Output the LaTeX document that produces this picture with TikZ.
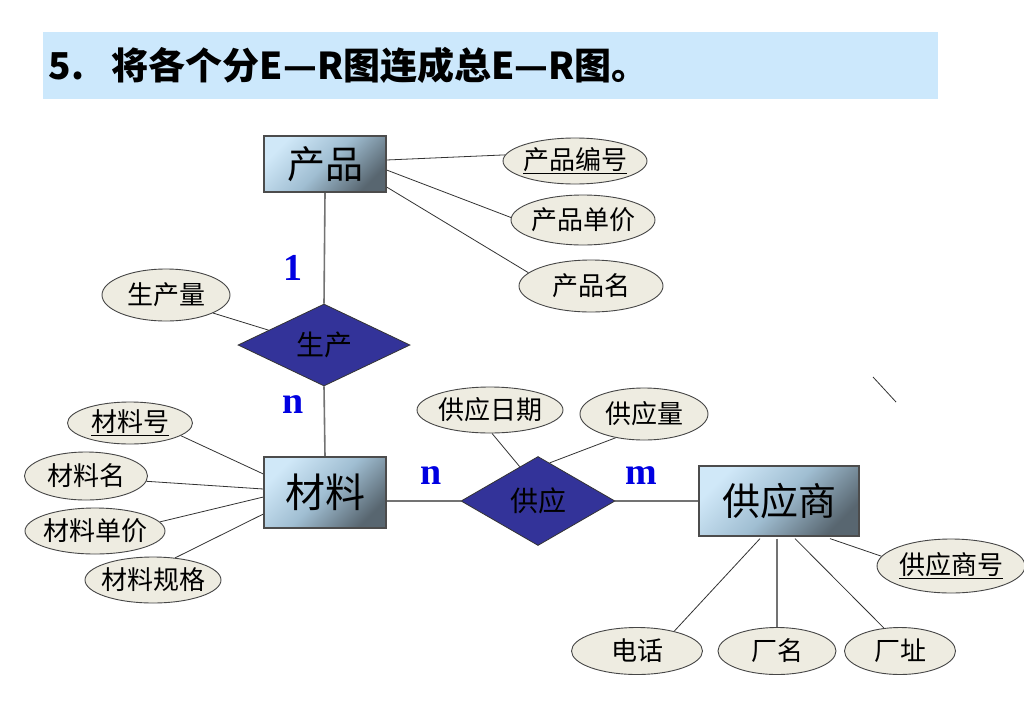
\documentclass[tikz,border=0pt]{standalone}
\usepackage{fontspec}
\newfontfamily\cjk{Noto Sans CJK SC}
\newfontfamily\serifb{Liberation Serif}
\usetikzlibrary{shapes.geometric,backgrounds}
\definecolor{bandblue}{RGB}{204,232,252}
\definecolor{ellfill}{RGB}{238,236,225}
\definecolor{ellline}{RGB}{70,70,70}
\definecolor{relfill}{RGB}{51,51,153}
\definecolor{boxlight}{RGB}{208,232,248}
\definecolor{boxmid}{RGB}{160,190,210}
\definecolor{boxdark}{RGB}{88,102,112}
\definecolor{cardblue}{RGB}{0,0,225}
\definecolor{reltext}{RGB}{0,0,0}
\newcommand{\zw}[1]{\makebox[0pt]{#1}}
\tikzset{
  entbox/.style={rectangle, draw=black!70, line width=1.2pt, inner sep=0pt,
    top color=boxlight, bottom color=boxdark, middle color=boxmid, shading angle=45,
    font=\cjk\fontsize{38}{42}\selectfont},
  attrell/.style={ellipse, draw=ellline, fill=ellfill, line width=0.9pt, inner sep=0pt,
    font=\cjk\fontsize{26}{30}\selectfont},
  relbox/.style={diamond, draw=black!80, fill=relfill, line width=0.8pt, inner sep=0pt,
    text=reltext, font=\cjk\fontsize{28}{30}\selectfont},
  card/.style={font=\serifb\bfseries\fontsize{38}{40}\selectfont, text=cardblue, inner sep=0pt},
  mainlink/.style={draw=black!55, line width=1.6pt},
  attrlink/.style={draw=black!80, line width=0.8pt},
}
\begin{document}
\begin{tikzpicture}[x=1pt,y=-1pt]
\useasboundingbox (0,0) rectangle (1024,723);
% title band
\node[fill=bandblue, minimum width=895pt, minimum height=67pt, text width=884pt, align=left,
      inner sep=0pt, font=\cjk\bfseries\fontsize{37}{40}\selectfont] (title) at (490.5,65.5)
      {5.\hspace{28pt}将各个分E—R图连成总E—R图。};
% entities
\node[entbox, minimum width=122pt, minimum height=56pt] (p) at (325,164) {产品};
\node[entbox, minimum width=122pt, minimum height=71pt, font=\cjk\fontsize{40}{44}\selectfont] (m) at (325,492.5) {材料};
\node[entbox, minimum width=160pt, minimum height=70pt] (s) at (779,501) {供应商};
% relationships
\node[relbox, minimum width=172pt, minimum height=80pt] (r1) at (324,345) {\color{reltext}生产};
\node[relbox, minimum width=154pt, minimum height=89pt] (r2) at (538,501) {\color{reltext}供应};
% attributes
\node[attrell, minimum width=144pt, minimum height=46pt] (a1) at (575,161) {\zw{\underline{产品编号}}};
\node[attrell, minimum width=144pt, minimum height=50pt] (a2) at (583,220) {\zw{产品单价}};
\node[attrell, minimum width=144pt, minimum height=52pt] (a3) at (591,286) {\zw{产品名}};
\node[attrell, minimum width=128pt, minimum height=52pt] (a4) at (166,295) {\zw{生产量}};
\node[attrell, minimum width=125pt, minimum height=42pt] (b1) at (130,423) {\zw{\underline{材料号}}};
\node[attrell, minimum width=123pt, minimum height=48pt] (b2) at (86,476) {\zw{材料名}};
\node[attrell, minimum width=140pt, minimum height=46pt] (b3) at (95,531) {\zw{材料单价}};
\node[attrell, minimum width=136pt, minimum height=46pt] (b4) at (153,580) {\zw{材料规格}};
\node[attrell, minimum width=146pt, minimum height=46pt] (c1) at (490,410) {\zw{供应日期}};
\node[attrell, minimum width=128pt, minimum height=52pt] (c2) at (644,414) {\zw{供应量}};
\node[attrell, minimum width=148pt, minimum height=54pt] (d4) at (951,566) {\zw{\underline{供应商号}}};
\node[attrell, minimum width=131pt, minimum height=47pt] (d1) at (637,651) {\zw{电话}};
\node[attrell, minimum width=118pt, minimum height=47pt] (d2) at (777,651) {\zw{厂名}};
\node[attrell, minimum width=111pt, minimum height=47pt] (d3) at (900,651) {\zw{厂址}};
% cardinalities
\node[card] (k1) at (293,268) {1};
\node[card] (k2) at (293,405) {n};
\node[card] (k3) at (431,476) {n};
\node[card] (k4) at (641,476) {m};
% stray stroke
\coordinate (st1) at (873,377);
\coordinate (st2) at (896,402);
\draw[attrlink] (st1) -- (st2);
\begin{pgfonlayer}{background}
\fill[white] (0,0) rectangle (1024,723);
\draw[mainlink] (p.south) -- (r1.north);
\draw[mainlink] (r1.south) -- (m.north);
\draw[mainlink] (m.east |- r2.west) -- (r2.west);
\draw[mainlink] (r2.east) -- (r2.east -| s.west);
\draw[attrlink] ([yshift=4pt]p.east) -- (a1.175);
\draw[attrlink] ([yshift=-6pt]p.east) -- (a2.178);
\draw[attrlink] ([yshift=-23pt]p.east) -- (a3.168);
\draw[attrlink] (a4.-21) -- (r1.165);
\draw[attrlink] (b1.-14) -- ([yshift=18.5pt]m.west);
\draw[attrlink] (b2.-5) -- ([yshift=3.5pt]m.west);
\draw[attrlink] (b3.8) -- ([yshift=-4.5pt]m.west);
\draw[attrlink] (b4.45) -- ([yshift=-21.5pt]m.west);
\draw[attrlink] (c1.-85) -- (r2.118);
\draw[attrlink] (c2.-140) -- (r2.73);
\draw[attrlink] ([xshift=-19pt,yshift=-2pt]s.south) -- (d1.28);
\draw[mainlink, line width=1.2pt] ([yshift=-2pt]d2.north |- s.south) -- (d2.north);
\draw[attrlink] ([xshift=16pt,yshift=-2pt]s.south) -- (d3.125);
\draw[attrlink] ([xshift=51pt,yshift=-2pt]s.south) -- (d4.172);
\end{pgfonlayer}
\end{tikzpicture}
\end{document}
